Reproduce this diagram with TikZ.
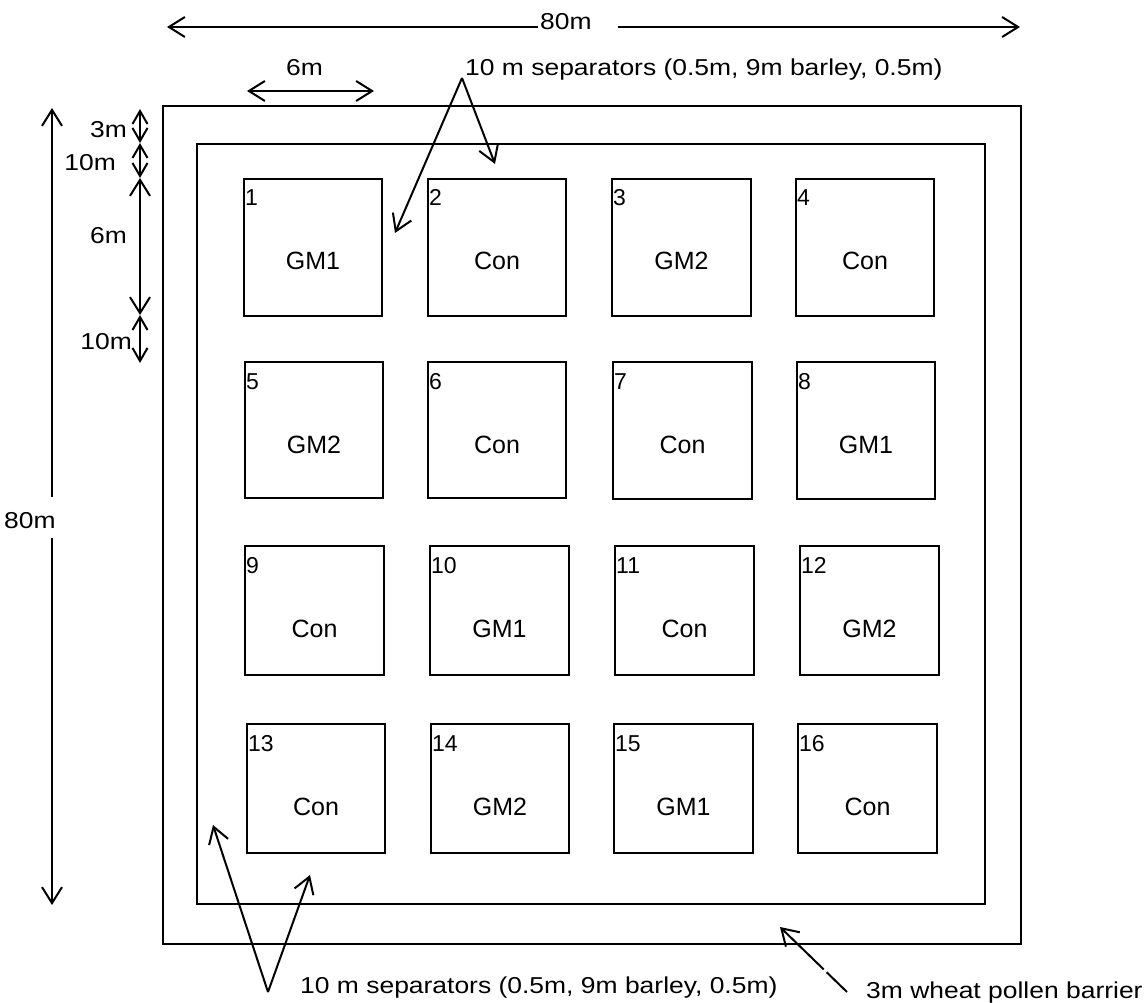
\documentclass[tikz,border=0pt]{standalone}
\usepackage{fontspec}
\setmainfont{Liberation Sans}
\newfontfamily\annfont[FakeStretch=1.15]{Liberation Sans}
\usetikzlibrary{arrows.meta}
\begin{document}
\begin{tikzpicture}[x=1pt,y=-1pt,
  frame/.style={draw, line width=1.5pt},
  plotbox/.style={draw, line width=1.8pt, inner sep=0pt, outer sep=0pt},
  numtext/.style={font=\fontsize{23}{26}\selectfont, inner sep=0pt},
  labtext/.style={font=\fontsize{25}{28}\selectfont, inner sep=0pt},
  anntext/.style={font=\annfont\fontsize{23}{26}\selectfont, inner sep=0pt},
  bigtip/.style={-{Straight Barb[length=16pt,width=20pt]}},
  dimline/.style={line width=2pt},
  dimboth/.style={line width=2pt, {Straight Barb[length=16pt,width=20pt]}-{Straight Barb[length=16pt,width=20pt]}},
  smallboth/.style={line width=2pt, {Straight Barb[length=13pt,width=15pt]}-{Straight Barb[length=13pt,width=15pt]}}
]
\useasboundingbox (0,0) rectangle (1144,1003);
\fill[white] (0,0) rectangle (1144,1003);

% field frames
\draw[frame] (163,106) rectangle (1021,944);
\draw[frame] (197,144) rectangle (985,904);

% plots
\foreach \n/\l/\xa/\ya/\xb/\yb in {
  1/GM1/244/179/382/316, 2/Con/428/179/566/316, 3/GM2/612/179/751/316, 4/Con/796/179/934/316,
  5/GM2/245/362/383/498, 6/Con/428/362/566/498, 7/Con/613/362/752/499, 8/GM1/797/362/935/499,
  9/Con/245/546/384/675, 10/GM1/430/546/569/675, 11/Con/615/546/754/675, 12/GM2/800/546/939/675,
  13/Con/247/724/385/853, 14/GM2/431/724/569/853, 15/GM1/614/724/753/853, 16/Con/798/724/937/853}{
  \node[plotbox, minimum width={(\xb-\xa)*1pt}, minimum height={(\yb-\ya)*1pt}] (p\n) at ({(\xa+\xb)/2},{(\ya+\yb)/2}) {};
  \node[numtext, anchor=base west] (n\n) at ({\xa+1},{\ya+27}) {\n};
  \node[labtext, anchor=base] (l\n) at ({(\xa+\xb)/2},{\ya+91}) {\l};
}

% top 80m dimension
\node[anntext, anchor=base west] (t80) at (540,30) {80m};
\coordinate (t80l) at (167,27);
\coordinate (t80a) at (538,27);
\coordinate (t80b) at (618,27);
\coordinate (t80r) at (1020,27);
\draw[dimline, bigtip] (t80a) -- (t80l);
\draw[dimline, bigtip] (t80b) -- (t80r);

% left 80m dimension
\node[anntext, anchor=base west] (v80) at (4,528) {80m};
\coordinate (v80t) at (52,108);
\coordinate (v80a) at (52,497);
\coordinate (v80b) at (52,538);
\coordinate (v80d) at (52,905);
\draw[dimline, bigtip] (v80a) -- (v80t);
\draw[dimline, bigtip] (v80b) -- (v80d);

% top 6m dimension
\node[anntext, anchor=base west] (h6) at (286,76) {6m};
\coordinate (h6l) at (247,91);
\coordinate (h6r) at (374,91);
\draw[dimboth] (h6l) -- (h6r);

% small vertical dimensions
\coordinate (d0) at (140,109);
\coordinate (d1) at (140,143);
\coordinate (d2) at (140,178);
\coordinate (d3) at (140,315);
\coordinate (d4) at (140,363);
\draw[smallboth] (d0) -- (d1);
\draw[smallboth] (d1) -- (d2);
\draw[dimboth] (d2) -- (d3);
\draw[smallboth] (d3) -- (d4);
\node[anntext, anchor=base east] (v3) at (127,138) {3m};
\node[anntext, anchor=base east] (v10a) at (116,171) {10m};
\node[anntext, anchor=base east] (v6) at (127,244) {6m};
\node[anntext, anchor=base east] (v10b) at (132,349) {10m};

% top separators note
\node[anntext, anchor=base west] (septop) at (465,76) {10 m separators (0.5m, 9m barley, 0.5m)};
\coordinate (septopapex) at (462,78);
\coordinate (septopl) at (395,233);
\coordinate (septopr) at (495,164);
\draw[dimline, bigtip] (septopapex) -- (septopl);
\draw[dimline, bigtip] (septopapex) -- (septopr);

% bottom separators note
\node[anntext, anchor=base west] (sepbot) at (300,993) {10 m separators (0.5m, 9m barley, 0.5m)};
\coordinate (sepbotapex) at (268,992);
\coordinate (sepbotl) at (213,825);
\coordinate (sepbotr) at (310,875);
\draw[dimline, bigtip] (sepbotapex) -- (sepbotl);
\draw[dimline, bigtip] (sepbotapex) -- (sepbotr);

% wheat barrier note
\node[anntext, anchor=base west] (wheat) at (866,998) {3m wheat pollen barrier};
\coordinate (wheattip) at (780,927);
\coordinate (wheatend) at (847,992);
\draw[dimline, dash pattern=on 58pt off 4pt, {Straight Barb[length=16pt,width=20pt]}-] (wheattip) -- (wheatend);
\end{tikzpicture}
\end{document}
